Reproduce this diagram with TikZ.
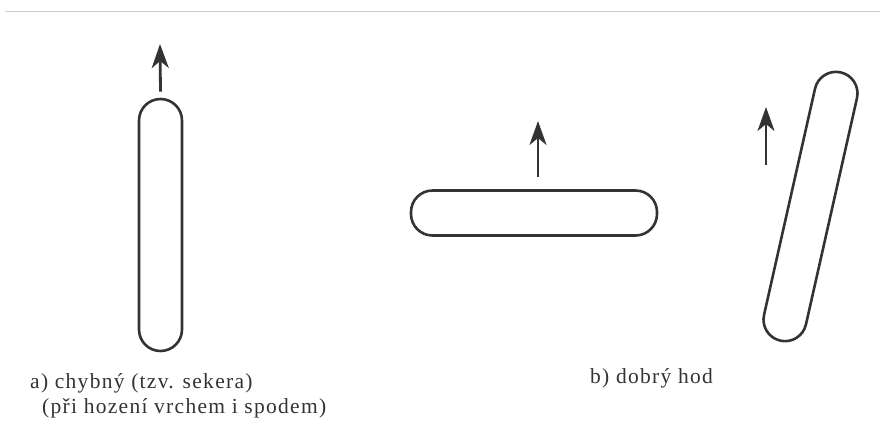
\documentclass[tikz,border=0pt]{standalone}
\usepackage{fontspec}
\setmainfont{Liberation Serif}
\newfontfamily\scanfont[LetterSpace=6]{Liberation Serif}
\usetikzlibrary{positioning,arrows.meta}

\begin{document}
\begin{tikzpicture}[
  x=1pt,y=-1pt,
  every node/.style={font=\scanfont\fontsize{21.5}{25}\selectfont,text=black!80},
  capsule/.style={draw=black!80,line width=2.6pt,inner sep=0pt,rounded corners=21.5pt,minimum width=43pt},
  up/.style={-{Stealth[length=24pt,width=17pt,inset=7pt]},line width=2.8pt,draw=black!80},
  caption/.style={anchor=base west,inner sep=0pt}
]
  \useasboundingbox (0,0) rectangle (880,432);
  \draw[black!20,line width=1pt] (5,11) -- (880,11);

  % a) vertical stick
  \node[capsule,minimum height=252pt] (capA) at (160.5,225) {};
  \coordinate (tipA) at (160,44);
  \draw[up] ([yshift=6pt]capA.north) -- (tipA);

  % b) flat stick
  \node[capsule,minimum width=246pt,minimum height=45pt] (capB) at (534,213) {};
  \coordinate (baseB) at (538,177);
  \coordinate (tipB) at (538,121);
  \draw[up] (baseB) -- (tipB);

  % b) tilted stick
  \node[capsule,minimum height=275pt,rotate=-12.7] (capC) at (810.5,206.5) {};
  \coordinate (baseC) at (766,165);
  \coordinate (tipC) at (766,107);
  \draw[up] (baseC) -- (tipC);

  \node[caption] (labA) at (30,388) {a) chybný (tzv. sekera)};
  \node[caption] (labA2) at (42,413) {(při hození vrchem i spodem)};
  \node[caption] (labB) at (590,383) {b) dobrý hod};
\end{tikzpicture}
\end{document}
